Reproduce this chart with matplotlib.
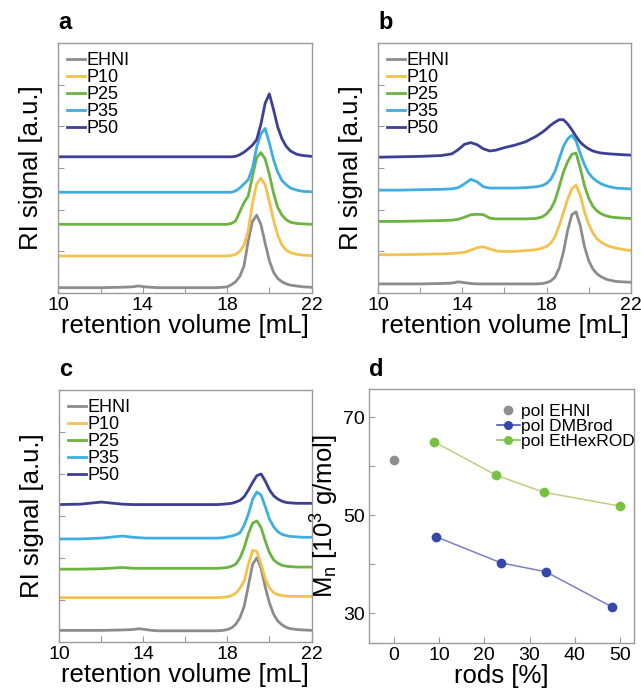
import numpy as np
import matplotlib
matplotlib.use("Agg")
import matplotlib.pyplot as plt

plt.rcParams['font.family'] = ['Liberation Sans', 'DejaVu Sans']
plt.rcParams['mathtext.fontset'] = 'custom'
plt.rcParams['mathtext.rm'] = 'Liberation Sans'
plt.rcParams['mathtext.it'] = 'Liberation Sans'

# retention volume grid [mL] shared by all chromatograms
ret_vol = [10, 11, 12, 13, 13.5, 13.8, 14.1, 14.4, 14.7, 15.0, 15.3, 15.6, 16, 16.5,
           17, 17.5, 17.8, 18.0, 18.2, 18.4, 18.6, 18.8, 19.0, 19.2, 19.4, 19.6,
           19.8, 20.0, 20.2, 20.4, 20.6, 20.8, 21.0, 21.3, 21.6, 22]

# panel a, stacked RI traces
ehni_a = [0.13, 0.13, 0.13, 0.14, 0.15, 0.17, 0.15, 0.14, 0.13, 0.13, 0.13, 0.13, 0.13, 0.13,
          0.13, 0.13, 0.14, 0.15, 0.20, 0.27, 0.40, 0.65, 1.25, 1.72, 1.87, 1.65,
          1.20, 0.78, 0.50, 0.35, 0.27, 0.22, 0.19, 0.17, 0.15, 0.14]
p10_a = [0.89, 0.89, 0.89, 0.89, 0.89, 0.89, 0.89, 0.89, 0.89, 0.89, 0.89, 0.89, 0.89, 0.89,
         0.89, 0.89, 0.89, 0.89, 0.90, 0.93, 1.00, 1.15, 1.50, 2.15, 2.62, 2.76,
         2.60, 2.20, 1.75, 1.38, 1.15, 1.03, 0.97, 0.93, 0.91, 0.90]
p25_a = [1.65, 1.65, 1.65, 1.65, 1.65, 1.65, 1.65, 1.65, 1.65, 1.65, 1.65, 1.65, 1.65, 1.65,
         1.65, 1.65, 1.65, 1.65, 1.67, 1.73, 1.95, 2.17, 2.33, 2.80, 3.25, 3.37,
         3.22, 2.85, 2.40, 2.05, 1.87, 1.76, 1.70, 1.67, 1.66, 1.65]
p35_a = [2.42, 2.42, 2.42, 2.42, 2.42, 2.42, 2.42, 2.42, 2.42, 2.42, 2.42, 2.42, 2.42, 2.42,
         2.42, 2.42, 2.42, 2.42, 2.42, 2.45, 2.52, 2.62, 2.72, 3.00, 3.50, 3.82,
         3.95, 3.60, 3.20, 2.90, 2.70, 2.60, 2.52, 2.47, 2.44, 2.43]
p50_a = [3.27, 3.27, 3.27, 3.27, 3.27, 3.27, 3.27, 3.27, 3.27, 3.27, 3.27, 3.27, 3.27, 3.27,
         3.27, 3.27, 3.27, 3.27, 3.27, 3.28, 3.32, 3.38, 3.46, 3.55, 3.68, 4.05,
         4.55, 4.78, 4.40, 3.98, 3.70, 3.52, 3.41, 3.33, 3.30, 3.28]

# panel b
ehni_b = [0.22, 0.22, 0.22, 0.23, 0.24, 0.27, 0.25, 0.23, 0.22, 0.22, 0.22, 0.22, 0.22, 0.22,
          0.22, 0.22, 0.23, 0.25, 0.29, 0.38, 0.60, 0.98, 1.50, 1.88, 1.95, 1.62,
          1.12, 0.78, 0.58, 0.46, 0.39, 0.34, 0.31, 0.28, 0.27, 0.26]
p10_b = [0.92, 0.92, 0.93, 0.94, 0.95, 0.96, 0.98, 1.03, 1.09, 1.11, 1.06, 1.01, 1.00, 1.00,
         1.02, 1.04, 1.08, 1.12, 1.20, 1.35, 1.62, 1.93, 2.25, 2.50, 2.59, 2.35,
         1.95, 1.65, 1.44, 1.30, 1.22, 1.16, 1.12, 1.08, 1.05, 1.02]
p25_b = [1.72, 1.72, 1.73, 1.74, 1.75, 1.77, 1.82, 1.88, 1.89, 1.88, 1.80, 1.78, 1.78, 1.78,
         1.78, 1.79, 1.83, 1.90, 2.02, 2.22, 2.55, 2.90, 3.15, 3.33, 3.36, 3.00,
         2.58, 2.28, 2.08, 1.97, 1.90, 1.86, 1.83, 1.81, 1.80, 1.79]
p35_b = [2.47, 2.47, 2.48, 2.49, 2.50, 2.53, 2.62, 2.73, 2.67, 2.55, 2.52, 2.52, 2.52, 2.52,
         2.53, 2.55, 2.58, 2.63, 2.73, 2.92, 3.22, 3.52, 3.70, 3.79, 3.65, 3.35,
         3.08, 2.88, 2.76, 2.68, 2.62, 2.58, 2.55, 2.52, 2.51, 2.50]
p50_b = [3.26, 3.27, 3.28, 3.30, 3.34, 3.44, 3.57, 3.61, 3.56, 3.46, 3.41, 3.43, 3.49, 3.55,
         3.63, 3.76, 3.86, 3.94, 4.03, 4.10, 4.16, 4.16, 4.06, 3.92, 3.76, 3.62,
         3.53, 3.46, 3.41, 3.38, 3.36, 3.35, 3.34, 3.33, 3.32, 3.31]

# panel c
ehni_c = [0.27, 0.27, 0.27, 0.28, 0.29, 0.31, 0.29, 0.27, 0.26, 0.26, 0.26, 0.26, 0.26, 0.26,
          0.26, 0.26, 0.27, 0.29, 0.33, 0.42, 0.58, 0.85, 1.35, 1.85, 2.00, 1.75,
          1.30, 0.92, 0.65, 0.49, 0.40, 0.34, 0.31, 0.29, 0.28, 0.27]
p10_c = [1.05, 1.05, 1.05, 1.05, 1.05, 1.05, 1.05, 1.05, 1.05, 1.05, 1.05, 1.05, 1.05, 1.05,
         1.05, 1.05, 1.06, 1.07, 1.10, 1.16, 1.28, 1.45, 1.85, 2.18, 2.15, 1.85,
         1.50, 1.28, 1.17, 1.12, 1.10, 1.09, 1.08, 1.08, 1.08, 1.08]
p25_c = [1.73, 1.73, 1.74, 1.77, 1.75, 1.75, 1.75, 1.75, 1.75, 1.75, 1.75, 1.75, 1.75, 1.75,
         1.75, 1.75, 1.76, 1.77, 1.80, 1.85, 2.00, 2.25, 2.58, 2.83, 2.88, 2.72,
         2.40, 2.12, 1.95, 1.87, 1.82, 1.80, 1.79, 1.78, 1.78, 1.78]
p35_c = [2.45, 2.45, 2.47, 2.52, 2.49, 2.48, 2.47, 2.47, 2.47, 2.47, 2.47, 2.47, 2.47, 2.47,
         2.47, 2.47, 2.48, 2.50, 2.52, 2.55, 2.60, 2.78, 3.05, 3.40, 3.57, 3.50,
         3.22, 2.92, 2.74, 2.62, 2.56, 2.53, 2.51, 2.50, 2.49, 2.49]
p50_c = [3.27, 3.28, 3.33, 3.28, 3.27, 3.27, 3.27, 3.27, 3.27, 3.27, 3.27, 3.27, 3.27, 3.27,
         3.27, 3.27, 3.28, 3.29, 3.30, 3.33, 3.37, 3.46, 3.62, 3.80, 3.96, 4.00,
         3.83, 3.62, 3.48, 3.40, 3.35, 3.32, 3.31, 3.30, 3.30, 3.30]

trace_labels = ['EHNI', 'P10', 'P25', 'P35', 'P50']
trace_colors = ['#8c8c8c', '#f3c14e', '#6cb33f', '#3eaee0', '#3d3f94']

# panel d, number-average molar mass vs rod content
ehni_rods = [0]
ehni_mn = [61.3]
dmb_rods = [9.4, 23.7, 33.6, 48.3]
dmb_mn = [45.6, 40.3, 38.5, 31.3]
ethex_rods = [8.9, 22.6, 33.2, 50.0]
ethex_mn = [65.0, 58.2, 54.7, 51.9]

frame_col = '#9a9a9a'


def style_frame(ax):
    for sp in ax.spines.values():
        sp.set_color(frame_col)
        sp.set_linewidth(1.0)
    ax.tick_params(direction='in', color=frame_col, length=4, width=0.8,
                   labelsize=14, pad=3)


def draw_gpc(ax, traces, letter):
    for y, lab, col in zip(traces, trace_labels, trace_colors):
        ax.plot(ret_vol, y, color=col, lw=2.0, label=lab)
    ax.set_xlim(10, 22)
    ax.set_ylim(0, 6)
    ax.set_xticks([10, 12, 14, 16, 18, 20, 22])
    ax.set_xticklabels(['10', '', '14', '', '18', '', '22'])
    ax.set_yticks([1, 2, 3, 4, 5])
    ax.set_yticklabels([])
    style_frame(ax)
    ax.set_xlabel('retention volume [mL]', fontsize=18.5, labelpad=0)
    ax.set_ylabel('RI signal [a.u.]', fontsize=18.5, labelpad=8)
    ax.legend(loc='upper left', fontsize=13, frameon=False, handlelength=1.0,
              handletextpad=0.05, labelspacing=0.0, borderaxespad=0.3,
              borderpad=0.2)
    ax.text(0.0, 1.035, letter, transform=ax.transAxes, fontsize=17,
            fontweight='bold', ha='left', va='bottom')


fig = plt.figure(figsize=(6.41, 6.88), dpi=100)

ax_a = fig.add_axes([0.091, 0.574, 0.395, 0.3635])
draw_gpc(ax_a, [ehni_a, p10_a, p25_a, p35_a, p50_a], 'a')

ax_b = fig.add_axes([0.590, 0.574, 0.394, 0.3635])
draw_gpc(ax_b, [ehni_b, p10_b, p25_b, p35_b, p50_b], 'b')

ax_c = fig.add_axes([0.0925, 0.0673, 0.3935, 0.3657])
draw_gpc(ax_c, [ehni_c, p10_c, p25_c, p35_c, p50_c], 'c')

ax_d = fig.add_axes([0.576, 0.065, 0.4135, 0.369])
ax_d.plot(ehni_rods, ehni_mn, 'o', color='#8f8f8f', ms=7, mec='none',
          label='pol EHNI')
ax_d.plot(dmb_rods, dmb_mn, '-', color='#7a7fc4', lw=1.1)
ax_d.plot(dmb_rods, dmb_mn, 'o', color='#3448a8', ms=7, mec='none')
ax_d.plot(ethex_rods, ethex_mn, '-', color='#bccf7e', lw=1.1)
ax_d.plot(ethex_rods, ethex_mn, 'o', color='#79c142', ms=7, mec='none')
# legend proxies combining line and marker
ax_d.plot([], [], '-o', color='#3448a8', ms=6.5, mec='none', lw=1.1,
          label='pol DMBrod')
ax_d.plot([], [], '-o', color='#79c142', ms=6.5, mec='none', lw=1.1,
          label='pol EtHexROD')
ax_d.set_xlim(-5.5, 53.2)
ax_d.set_ylim(23.9, 75.7)
ax_d.set_xticks([0, 10, 20, 30, 40, 50])
ax_d.set_yticks([30, 40, 50, 60, 70])
ax_d.set_yticklabels(['30', '', '50', '', '70'])
style_frame(ax_d)
ax_d.set_xlabel('rods [%]', fontsize=18.5, labelpad=0)
ax_d.set_ylabel('M$_n$ [10$^3$ g/mol]', fontsize=18.5, labelpad=2)
ax_d.legend(loc='upper right', bbox_to_anchor=(1.01, 0.95), fontsize=12.5,
            frameon=False, handlelength=1.3, handletextpad=0.1,
            labelspacing=-0.02, borderaxespad=0.0, borderpad=0.1)
ax_d.text(0.0, 1.035, 'd', transform=ax_d.transAxes, fontsize=17,
          fontweight='bold', ha='left', va='bottom')

fig.savefig('out.png', dpi=100)
